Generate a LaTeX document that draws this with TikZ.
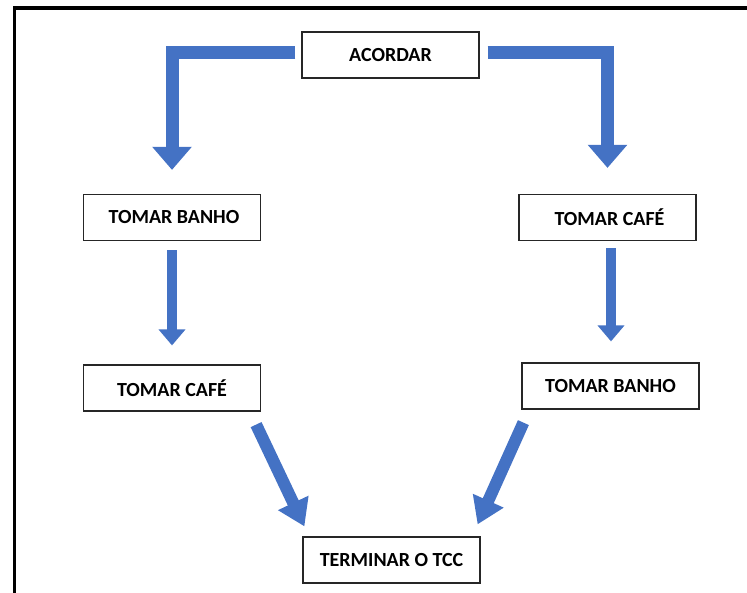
\documentclass[tikz,border=0pt]{standalone}
\usepackage{fontspec}
\setmainfont{Carlito}
\usetikzlibrary{arrows.meta,calc}
\definecolor{officeblue}{HTML}{4472C4}
\begin{document}
\begin{tikzpicture}[x=1pt,y=-1pt,
  box/.style={draw=black!85,line width=1.2pt,fill=white,minimum width=177pt,minimum height=46pt,inner sep=0pt,font=\fontsize{20}{22}\selectfont\bfseries},
  bigarrow/.style={draw=officeblue,line width=13pt,line join=miter,-{Triangle[width=38pt,length=23pt]},officeblue},
  smallarrow/.style={draw=officeblue,line width=9.5pt,-{Triangle[width=26pt,length=16pt]},officeblue},
  diagarrow/.style={draw=officeblue,line width=12pt,-{Triangle[width=32pt,length=26pt]},officeblue}]
\useasboundingbox (0,0) rectangle (747,592);
\draw[line width=3.6pt] (760,8) -- (14.5,8) -- (14.5,600);
\node[box] (acordar) at (390.5,55) {ACORDAR};
\node[box] (banho1) at (172,217.5) {\hspace*{4pt}TOMAR BANHO};
\node[box] (cafe1) at (607.5,217.5) {\hspace*{4pt}TOMAR CAFÉ};
\node[box] (cafe2) at (172,388) {TOMAR CAFÉ};
\node[box] (banho2) at (610.5,386) {TOMAR BANHO};
\node[box] (terminar) at (391.5,560) {TERMINAR O TCC};
\draw[bigarrow] ($(acordar.west)+(-6,-2.5)$) -| ($(banho1.north)+(0,-24)$);
\draw[bigarrow] ($(acordar.east)+(8,-2.5)$) -| ($(cafe1.north)+(0,-26)$);
\draw[smallarrow] ($(banho1.south)+(0,9)$) -- ($(cafe2.north)+(0,-19)$);
\draw[smallarrow] ($(cafe1.south)+(3.5,7)$) -- ($(banho2.north)+(0.5,-21)$);
\draw[diagarrow] ($(cafe2.south east)+(-5,13)$) -- ($(terminar.north west)+(2,-10)$);
\draw[diagarrow] ($(banho2.south west)+(2,13)$) -- ($(terminar.north east)+(-3,-12)$);
\end{tikzpicture}
\end{document}
